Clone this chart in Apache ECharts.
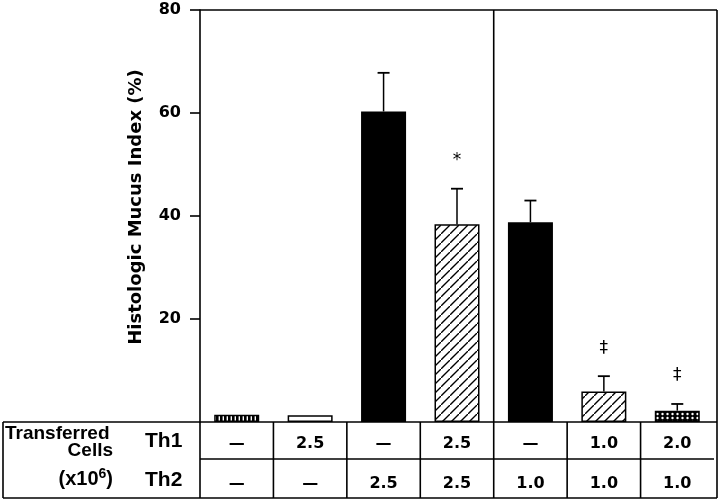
<!DOCTYPE html>
<html><head><meta charset="utf-8">
<script src="https://cdn.jsdelivr.net/npm/echarts@6/dist/echarts.min.js"></script>
<style>html,body{margin:0;padding:0;background:#fff}#c{width:720px;height:502px}</style>
</head><body><div id="c"></div><script>
// ---- data ----
const groups = ['G1','G2','G3','G4','G5','G6','G7'];
const th1 = ['—','2.5','—','2.5','—','1.0','2.0'];
const th2 = ['—','—','2.5','2.5','1.0','1.0','1.0'];
const values = [1.4, 1.3, 60.3, 38.4, 38.8, 5.9, 2.2];
const errTop = [1.4, 1.3, 67.8, 45.3, 43.0, 8.9, 3.5];
const marks = ['', '', '', '*', '', '‡', '‡'];
const fills = ['vstripe', 'white', 'black', 'diag', 'black', 'diag', 'cross'];
const yMin = 0, yMax = 80, yStep = 20;
const yTitle = 'Histologic Mucus Index (%)';
const rowTitle = ['Transferred', 'Cells'];
const rowNames = ['Th1', 'Th2'];

// ---- patterns ----
function pat(w, h, draw) {
  const c = document.createElement('canvas'); c.width = w; c.height = h;
  const g = c.getContext('2d'); g.fillStyle = '#fff'; g.fillRect(0, 0, w, h);
  draw(g, w, h); return { image: c, repeat: 'repeat' };
}
const patterns = {
  vstripe: pat(4, 4, (g) => { g.fillStyle = '#000'; g.fillRect(0, 0, 2.6, 4); }),
  white: '#fff',
  black: '#000',
  diag: pat(9, 9, (g, w, h) => {
    g.strokeStyle = '#000'; g.lineWidth = 1.4;
    g.beginPath(); g.moveTo(-1, h + 1); g.lineTo(w + 1, -1);
    g.moveTo(-2, 1); g.lineTo(1, -2); g.moveTo(w - 1, h + 2); g.lineTo(w + 2, h - 1); g.stroke();
  }),
  cross: pat(5, 4, (g) => { g.fillStyle = '#000'; g.fillRect(0, 0, 5, 4); g.fillStyle = '#fff';
    g.beginPath(); g.arc(2.5, 2, 1.2, 0, Math.PI * 2); g.fill(); })
};

// ---- layout ----
const L = 200, R = 714, T = 10, B = 422, TB = 498, FR = 717;
const cw = (R - L) / groups.length;
const F = '"DejaVu Sans"';
const LS = '"Liberation Sans", Arial';
const lw = 1.6;
function ln(x1, y1, x2, y2) {
  return { type: 'line', shape: { x1, y1, x2, y2 }, style: { stroke: '#000', lineWidth: lw }, z: 10 };
}
const gfx = [
  ln(L, T, FR, T), ln(FR, T, FR, TB),
  ln(3, B, FR, B), ln(3, TB, FR, TB), ln(3, B, 3, TB),
  ln(L, (B + TB) / 2 - 1, R, (B + TB) / 2 - 1),
  ln(L, B, L, TB)
];
for (let i = 1; i < groups.length; i++) {
  const x = L + i * cw;
  gfx.push(i === 4 ? ln(x, T, x, TB) : ln(x, B, x, TB));
}
gfx.push({ type: 'text', x: 5, y: 443, style: { text: rowTitle[0], font: 'bold 19px ' + LS, fill: '#000', textAlign: 'left', textVerticalAlign: 'bottom' } });
gfx.push({ type: 'text', x: 113, y: 460, style: { text: rowTitle[1], font: 'bold 19px ' + LS, fill: '#000', textAlign: 'right', textVerticalAlign: 'bottom' } });
gfx.push({ type: 'text', x: 113, y: 478, style: {
  text: '{a|(x10}{s|6}{a|)}', align: 'right', verticalAlign: 'middle',
  rich: { a: { font: 'bold 20px ' + LS, fill: '#000', verticalAlign: 'bottom' },
          s: { font: 'bold 14px ' + LS, fill: '#000', verticalAlign: 'top', padding: [0, 0, 8, 0] } } } });
gfx.push({ type: 'text', x: 145, y: 441, style: { text: rowNames[0], font: 'bold 21px ' + LS, fill: '#000', textAlign: 'left', textVerticalAlign: 'middle' } });
gfx.push({ type: 'text', x: 145, y: 480, style: { text: rowNames[1], font: 'bold 21px ' + LS, fill: '#000', textAlign: 'left', textVerticalAlign: 'middle' } });
gfx.push({ type: 'text', x: 136, y: 207, rotation: Math.PI / 2, style: { text: yTitle, font: 'bold 18px ' + F, fill: '#000', textAlign: 'center', textVerticalAlign: 'middle' } });

const chart = echarts.init(document.getElementById('c'), null, { renderer: 'canvas' });
const lab = { fontFamily: F, fontWeight: 'bold', fontSize: 16, color: '#000' };
chart.setOption({
  animation: false,
  backgroundColor: '#fff',
  grid: { left: L, right: 720 - R, top: T, bottom: 502 - B },
  xAxis: [
    { type: 'category', data: groups, position: 'bottom', axisLine: { show: false }, axisTick: { show: false },
      axisLabel: Object.assign({ margin: 14, interval: 0, formatter: (v, i) => th1[i] }, lab) },
    { type: 'category', data: groups, position: 'bottom', offset: 40, axisLine: { show: false }, axisTick: { show: false },
      axisLabel: Object.assign({ margin: 14, interval: 0, formatter: (v, i) => th2[i] }, lab) }
  ],
  yAxis: { type: 'value', min: yMin, max: yMax, interval: yStep,
    axisLine: { show: true, lineStyle: { color: '#000', width: lw } },
    axisTick: { show: true, length: 10, lineStyle: { color: '#000', width: lw } },
    splitLine: { show: false },
    axisLabel: Object.assign({ margin: 19, showMinLabel: false }, lab) },
  series: [
    { type: 'bar', barWidth: 45, z: 3,
      data: values.map((v, i) => ({ value: v, itemStyle: { color: patterns[fills[i]], borderColor: '#000', borderWidth: 1.5 } })) },
    { type: 'custom', z: 4,
      data: values.map((v, i) => [i, v, errTop[i]]),
      renderItem: (params, api) => {
        const i = api.value(0);
        const base = api.coord([i, api.value(1)]);
        const top = api.coord([i, api.value(2)]);
        const ch = [];
        if (api.value(2) > api.value(1)) {
          ch.push({ type: 'line', shape: { x1: base[0], y1: base[1], x2: top[0], y2: top[1] }, style: { stroke: '#000', lineWidth: 1.5 } });
          ch.push({ type: 'line', shape: { x1: top[0] - 6, y1: top[1], x2: top[0] + 6, y2: top[1] }, style: { stroke: '#000', lineWidth: 1.8 } });
        }
        const m = marks[params.dataIndex];
        if (m) ch.push({ type: 'text', x: top[0], y: top[1] - 28, style: { text: m, font: '17px ' + F, fill: '#000', textAlign: 'center', textVerticalAlign: 'middle' } });
        return { type: 'group', children: ch };
      } }
  ],
  graphic: gfx
});
</script></body></html>
